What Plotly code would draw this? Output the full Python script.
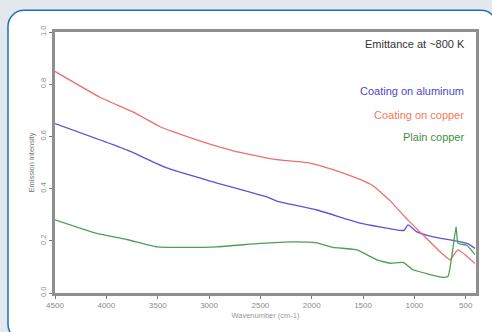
import plotly.graph_objects as go

# Emission spectra (wavenumber in cm-1, intensity)
wn_aluminum = [4500, 3800, 3410, 2990, 2436, 2340, 1950, 1530, 1140, 1100, 1062, 975, 816, 488, 410]
coating_aluminum = [0.649, 0.548, 0.479, 0.429, 0.368, 0.352, 0.318, 0.268, 0.240, 0.240, 0.261, 0.234, 0.215, 0.190, 0.171]

wn_copper = [4500, 4062, 3737, 3477, 3350, 3023, 2764, 2377, 2017, 1793, 1530, 1403, 1237, 1075, 914, 750, 653, 610, 574, 410]
coating_copper = [0.849, 0.750, 0.693, 0.637, 0.618, 0.574, 0.545, 0.513, 0.498, 0.473, 0.435, 0.411, 0.354, 0.284, 0.222, 0.158, 0.127, 0.150, 0.165, 0.113]

wn_plain = [4500, 4094, 3800, 3507, 3253, 2922, 2504, 2182, 1950, 1793, 1560, 1365, 1237, 1110, 1013, 720, 672, 627, 594, 574, 490, 410]
plain_copper = [0.280, 0.228, 0.205, 0.177, 0.175, 0.177, 0.190, 0.196, 0.192, 0.175, 0.165, 0.127, 0.114, 0.117, 0.089, 0.060, 0.064, 0.165, 0.253, 0.190, 0.183, 0.147]

x_ticks = [4500, 4000, 3500, 3000, 2500, 2000, 1500, 1000, 500]
y_ticks = [0, 0.2, 0.4, 0.6, 0.8, 1.0]

series = [
    ("Coating on aluminum", wn_aluminum, coating_aluminum, "#5a55d6"),
    ("Coating on copper", wn_copper, coating_copper, "#ef6f6f"),
    ("Plain copper", wn_plain, plain_copper, "#4f9e4f"),
]
label_colors = {"Coating on aluminum": "#4b48d0", "Coating on copper": "#f47a5a", "Plain copper": "#3f8f3f"}

W, H = 492, 332
ML, MR, MT, MB = 55, 16, 32, 35
pw, ph = W - ML - MR, H - MT - MB


def px(x):
    return (x - ML) / pw


def py(y):
    return (H - MB - y) / ph


def rounded_rect(x0, y0, x1, y1, r):
    k = 0.55 * r
    pts = [
        f"M {px(x0 + r)} {py(y0)}",
        f"L {px(x1 - r)} {py(y0)}",
        f"C {px(x1 - r + k)} {py(y0)} {px(x1)} {py(y0 + r - k)} {px(x1)} {py(y0 + r)}",
        f"L {px(x1)} {py(y1 - r)}",
        f"C {px(x1)} {py(y1 - r + k)} {px(x1 - r + k)} {py(y1)} {px(x1 - r)} {py(y1)}",
        f"L {px(x0 + r)} {py(y1)}",
        f"C {px(x0 + r - k)} {py(y1)} {px(x0)} {py(y1 - r + k)} {px(x0)} {py(y1 - r)}",
        f"L {px(x0)} {py(y0 + r)}",
        f"C {px(x0)} {py(y0 + r - k)} {px(x0 + r - k)} {py(y0)} {px(x0 + r)} {py(y0)} Z",
    ]
    return " ".join(pts)


fig = go.Figure()
for name, xs, ys, color in series:
    fig.add_trace(go.Scatter(x=xs, y=ys, mode="lines", name=name,
                             line=dict(color=color, width=1.3, shape="spline", smoothing=0.4)))

fig.update_layout(
    width=W, height=H,
    margin=dict(l=ML, r=MR, t=MT, b=MB),
    paper_bgcolor="#e2e8ee",
    plot_bgcolor="white",
    showlegend=False,
    font=dict(family="Liberation Sans, Arial, sans-serif", color="#888888"),
    xaxis=dict(
        range=[4500, 400], tickvals=x_ticks, ticktext=[str(v) for v in x_ticks],
        showgrid=False, zeroline=False, showline=True, linecolor="#8f8f8f", linewidth=2.5,
        mirror=True, ticks="outside", ticklen=3, tickcolor="#777777",
        tickfont=dict(size=8, color="#8a8a8a"),
        title=dict(text="Wavenumber (cm-1)", font=dict(size=7.5, color="#999999"), standoff=4),
    ),
    yaxis=dict(
        range=[0, 1.0], tickvals=y_ticks, ticktext=["0.0", "0.2", "0.4", "0.6", "0.8", "1.0"],
        showgrid=False, zeroline=False, showline=True, linecolor="#8f8f8f", linewidth=2.5,
        mirror=True, ticks="outside", ticklen=3, tickcolor="#777777", tickangle=-90,
        tickfont=dict(size=7.5, color="#8a8a8a"),
        title=dict(text="Emission intensity", font=dict(size=7.5, color="#777777"), standoff=4),
    ),
    shapes=[dict(
        type="path", xref="paper", yref="paper", layer="below",
        path=rounded_rect(8, 10, 497, 345, 16),
        fillcolor="white", line=dict(color="#1f6fb5", width=1.5),
    )],
)

fig.add_annotation(x=px(467), y=py(44), xref="paper", yref="paper",
                   xanchor="right", yanchor="middle",
                   text="Emittance at ~800 K", showarrow=False,
                   font=dict(size=11, color="#333333"))
label_rows = [("Coating on aluminum", 92), ("Coating on copper", 116), ("Plain copper", 139)]
for text, ypix in label_rows:
    fig.add_annotation(x=px(466), y=py(ypix), xref="paper", yref="paper",
                       xanchor="right", yanchor="middle",
                       text=text, showarrow=False,
                       font=dict(size=11, color=label_colors[text]))

fig.write_html("out.html")
